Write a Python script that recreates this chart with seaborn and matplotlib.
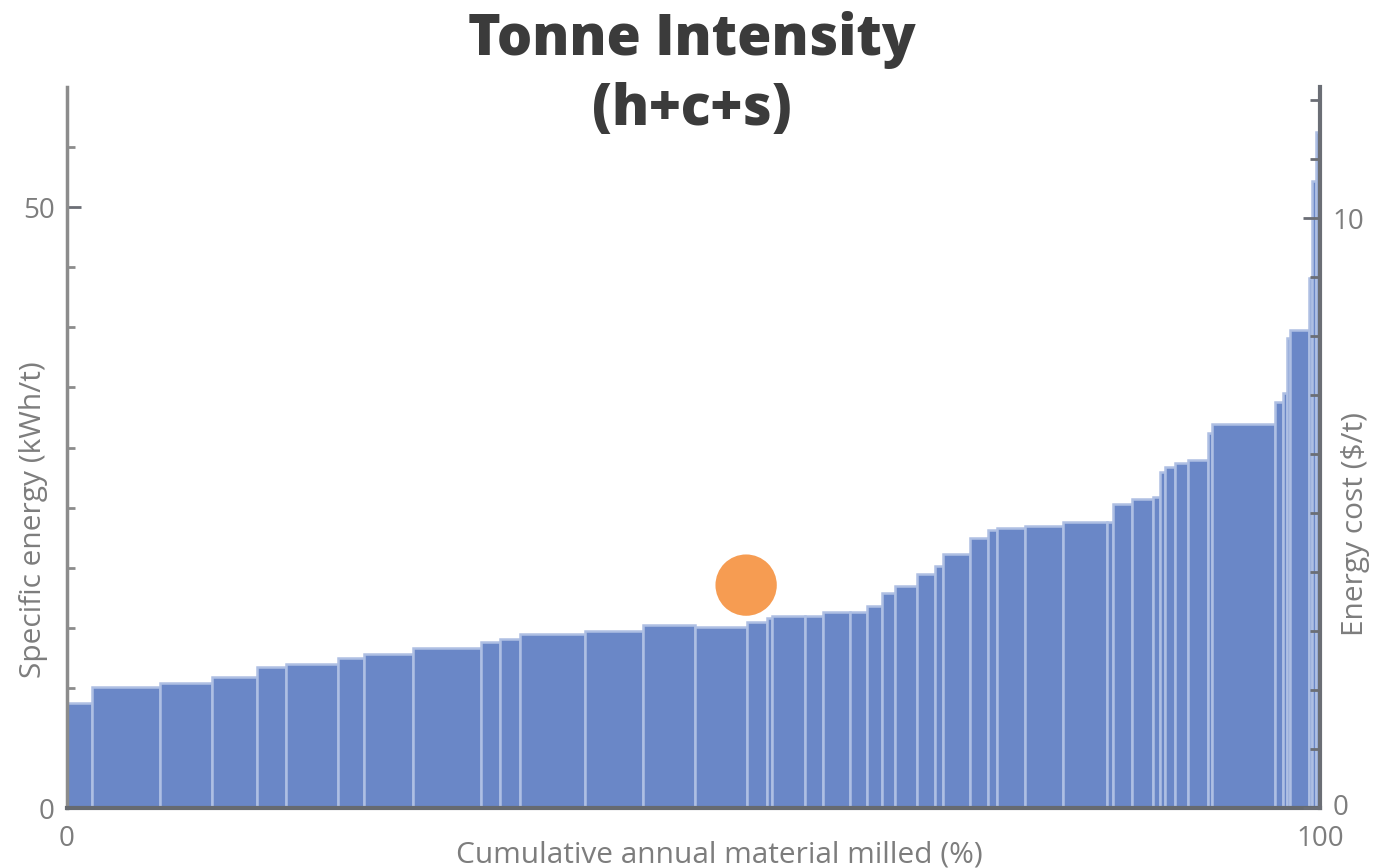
import numpy as np
import matplotlib.pyplot as plt
import seaborn as sns

# right edge of each bar = cumulative annual material milled (%)
cum_edge = [1.97, 7.42, 11.55, 15.14, 17.48, 21.63, 23.70, 27.61, 33.02, 34.56,
            36.15, 41.34, 45.97, 50.12, 54.25, 55.84, 56.24, 58.90, 60.36, 62.49,
            63.82, 65.02, 66.08, 67.81, 69.27, 69.91, 72.07, 73.50, 74.20, 76.46,
            79.49, 82.98, 83.48, 84.97, 86.67, 87.23, 87.63, 88.43, 89.47, 91.06,
            91.38, 96.41, 97.05, 97.34, 97.61, 99.15, 99.39, 99.66, 100.0]
# specific energy of each operation (kWh/t)
energy = [8.75, 10.1, 10.4, 10.9, 11.75, 12.0, 12.5, 12.8, 13.3, 13.8,
          14.1, 14.45, 14.7, 15.2, 15.1, 15.5, 15.8, 16.0, 16.0, 16.3,
          16.3, 16.8, 17.9, 18.5, 19.5, 20.1, 21.1, 22.5, 23.1, 23.3,
          23.5, 23.8, 23.8, 25.3, 25.7, 25.9, 28.0, 28.4, 28.7, 29.0,
          31.2, 32.0, 33.8, 34.5, 39.1, 39.8, 44.1, 52.2, 56.3]
# highlighted operation
site_x = [54.2]
site_y = [18.55]
# $/kWh used for the right hand axis
price = 10 / 49.08

edges = np.array(cum_edge)
lefts = np.concatenate([[0], edges[:-1]])
widths = edges - lefts

sns.set_theme(style='white')
plt.rcParams['font.family'] = ['Open Sans', 'DejaVu Sans']

fig = plt.figure(figsize=(13.73, 8.68), dpi=100)
ax = fig.add_axes([0.0488, 0.0691, 0.9126, 0.8306])

ax.bar(lefts, energy, width=widths, align='edge', color='#6a87c7',
       edgecolor='#aebfe3', linewidth=1.8)
sns.scatterplot(x=site_x, y=site_y, s=1950, color='#f5913f', alpha=0.9,
                edgecolor='none', ax=ax, zorder=5, legend=False)

ax.set_xlim(0, 100)
ax.set_ylim(0, 60)
ax.set_xticks([0, 100])
ax.set_xticks(np.arange(10, 100, 10), minor=True)
ax.set_yticks([0, 50])
ax.set_yticks(np.arange(5, 60, 5), minor=True)

lab_col = '#7d7d7d'
fs = 21.5
tfs = 20
ax.tick_params(axis='both', which='major', direction='in', labelsize=tfs,
               labelcolor=lab_col, width=2, color='#6b6e75')
ax.tick_params(axis='y', which='major', length=10, pad=9)
ax.tick_params(axis='y', which='minor', direction='in', length=6, width=2, color='#8c8c8c')
ax.tick_params(axis='x', which='major', length=0, pad=12)
ax.tick_params(axis='x', which='minor', direction='in', length=5, width=2, color='#5e6168')

ax.spines['top'].set_visible(False)
ax.spines['right'].set_visible(False)
ax.spines['left'].set_color('#8c8c8c')
ax.spines['left'].set_linewidth(2.5)
ax.spines['bottom'].set_color('#666a70')
ax.spines['bottom'].set_linewidth(3)

ax.set_xlabel('Cumulative annual material milled (%)', fontsize=fs, color=lab_col)
ax.xaxis.set_label_coords(0.521, -0.045)
ax.set_ylabel('Specific energy (kWh/t)', fontsize=fs, color=lab_col)
ax.yaxis.set_label_coords(-0.015, 0.40)

# right axis: energy cost
ax2 = ax.twinx()
ax2.set_ylim(0, 60 * price)
ax2.set_yticks([0, 10])
ax2.set_yticks(np.arange(1, 13, 1), minor=True)
ax2.tick_params(axis='y', which='major', direction='in', length=12, width=2,
                color='#6b6e75', labelsize=tfs, labelcolor=lab_col, pad=9)
ax2.tick_params(axis='y', which='minor', direction='in', length=7, width=2, color='#6b6e75')
for s in ['top', 'left', 'bottom']:
    ax2.spines[s].set_visible(False)
ax2.spines['right'].set_color('#6b6e75')
ax2.spines['right'].set_linewidth(3)
ax2.set_ylabel('Energy cost ($/t)', fontsize=fs, color=lab_col)
ax2.yaxis.set_label_coords(1.017, 0.394)
# keep the right-hand zero clear of the "100" below it
ax2.get_yticklabels()[0].set_verticalalignment('center')

# title
fig.text(0.504, 0.9366, 'Tonne Intensity', ha='center', va='baseline',
         fontsize=40, fontweight='heavy', color='#3b3b3b')
fig.text(0.504, 0.856, '(h+c+s)', ha='center', va='baseline',
         fontsize=40, fontweight='heavy', color='#3b3b3b')

fig.savefig('out.png', dpi=100)
